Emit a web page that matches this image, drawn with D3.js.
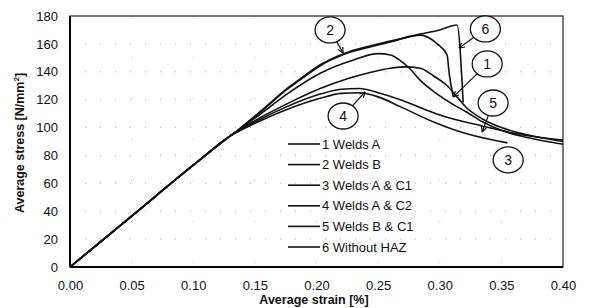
<!DOCTYPE html>
<html>
<head>
<meta charset="utf-8">
<script src="https://cdn.jsdelivr.net/npm/d3@7"></script>
<style>
  html, body { margin: 0; padding: 0; background: #fff; }
  svg { display: block; font-family: "Liberation Sans", Arial, sans-serif; }
</style>
</head>
<body>
<svg id="chart" width="594" height="308"></svg>
<script>
// ---------------- data ----------------
const seriesNames = ["1 Welds A", "2 Welds B", "3 Welds A & C1", "4 Welds A & C2", "5 Welds B & C1", "6 Without HAZ"];

const strain1 = [0, 0.05, 0.10, 0.13, 0.138, 0.155, 0.176, 0.19, 0.203, 0.222, 0.2435, 0.26, 0.284, 0.298, 0.306, 0.3075, 0.309, 0.311];
const stress1 = [0, 36.5, 73, 94, 99.3, 111.3, 127.3, 136.3, 144.3, 152.3, 157.8, 161.3, 166.3, 160, 152, 140, 131, 122];

const strain2 = [0, 0.05, 0.10, 0.13, 0.138, 0.155, 0.176, 0.203, 0.23, 0.25, 0.26, 0.268, 0.276, 0.284, 0.298, 0.31, 0.322, 0.335, 0.35, 0.37, 0.40];
const stress2 = [0, 36.5, 73, 94, 99, 110, 124, 139, 148.5, 153, 152, 148, 142, 134, 124, 117, 111, 104, 98, 93, 88];

const strain3 = [0, 0.05, 0.10, 0.13, 0.15, 0.176, 0.203, 0.22, 0.235, 0.25, 0.268, 0.295, 0.322, 0.355];
const stress3 = [0, 36.5, 73, 94, 103, 113, 121, 124.5, 125, 122, 115, 104, 95.5, 89];

const strain4 = [0, 0.05, 0.10, 0.13, 0.15, 0.176, 0.203, 0.22, 0.235, 0.25, 0.268, 0.285, 0.30, 0.335, 0.36, 0.38, 0.40];
const stress4 = [0, 36.5, 73, 94, 104, 115, 124, 127.5, 128, 125, 120, 114, 109, 101, 96, 93, 91];

const strain5 = [0, 0.05, 0.10, 0.13, 0.15, 0.176, 0.203, 0.225, 0.2435, 0.26, 0.272, 0.284, 0.295, 0.306, 0.314, 0.322, 0.335, 0.35, 0.37, 0.40];
const stress5 = [0, 36.5, 73, 94, 105, 117, 128, 135, 139.5, 142.5, 143.5, 142.5, 137, 130, 122, 114, 106, 100, 95, 90];

const strain6 = [0, 0.05, 0.10, 0.13, 0.138, 0.155, 0.176, 0.19, 0.203, 0.222, 0.2435, 0.26, 0.284, 0.30, 0.314, 0.319];
const stress6 = [0, 36.5, 73, 94, 99.5, 112, 128, 137, 145, 153, 158.5, 162, 167, 170, 173.5, 118];

const xTicks = [0, 0.05, 0.10, 0.15, 0.20, 0.25, 0.30, 0.35, 0.40];
const yTicks = [0, 20, 40, 60, 80, 100, 120, 140, 160, 180];

// callout labels: circle centre and arrow tip, in data units
const calloutLabels = ["2", "6", "1", "5", "3", "4"];
const calloutCx = [0.211, 0.337, 0.3385, 0.3433, 0.3555, 0.2216];
const calloutCy = [170, 170.7, 145.6, 117.6, 76.8, 108.3];
const calloutTipX = [0.2216, 0.3157, 0.311, 0.3344, null, 0.2394];
const calloutTipY = [153.5, 157, 122, 96.8, null, 125.5];

// ---------------- chart ----------------
const strains = [strain1, strain2, strain3, strain4, strain5, strain6];
const stresses = [stress1, stress2, stress3, stress4, stress5, stress6];
const series = seriesNames.map((n, i) => ({
  name: n,
  pts: strains[i].map((s, j) => [s, stresses[i][j]])
}));

const svg = d3.select("#chart");
const pL = 70, pR = 563, pT = 16, pB = 267;
const x = d3.scaleLinear().domain([0, 0.4]).range([pL, pR]);
const y = d3.scaleLinear().domain([0, 180]).range([pB, pT]);

// faint dotted grid (scanned look)
const grid = svg.append("g");
grid.selectAll("line.h").data(yTicks.slice(1, -1)).join("line")
  .attr("x1", pL).attr("x2", pR)
  .attr("y1", d => y(d)).attr("y2", d => y(d))
  .attr("stroke", "#aaa").attr("stroke-width", 1)
  .attr("stroke-dasharray", "1 14");
grid.selectAll("line.v").data(xTicks.slice(1, -1)).join("line")
  .attr("y1", pT).attr("y2", pB)
  .attr("x1", d => x(d)).attr("x2", d => x(d))
  .attr("stroke", "#bbb").attr("stroke-width", 1)
  .attr("stroke-dasharray", "1 40");

// axes
const xAxis = svg.append("g").attr("transform", `translate(0,${pB})`)
  .call(d3.axisBottom(x).tickValues(xTicks).tickSize(0).tickPadding(14).tickFormat(d3.format(".2f")));
const yAxis = svg.append("g").attr("transform", `translate(${pL},0)`)
  .call(d3.axisLeft(y).tickValues(yTicks).tickSize(0).tickPadding(12));
[xAxis, yAxis].forEach(a => {
  a.select(".domain").remove();
  a.selectAll("text").attr("font-size", 13).attr("fill", "#111")
    .attr("font-family", "Liberation Sans, Arial, sans-serif");
});

// frame
svg.append("rect").attr("x", pL).attr("y", pT)
  .attr("width", pR - pL).attr("height", pB - pT)
  .attr("fill", "none").attr("stroke", "#222").attr("stroke-width", 1.2);
svg.append("line").attr("x1", pL).attr("x2", pL).attr("y1", pT).attr("y2", pB)
  .attr("stroke", "#000").attr("stroke-width", 2);
svg.append("line").attr("x1", pL).attr("x2", pR).attr("y1", pB).attr("y2", pB)
  .attr("stroke", "#000").attr("stroke-width", 2);

// curves
const line = d3.line().x(d => x(d[0])).y(d => y(d[1])).curve(d3.curveMonotoneX);
svg.append("g").selectAll("path").data(series).join("path")
  .attr("d", d => line(d.pts))
  .attr("fill", "none").attr("stroke", "#111").attr("stroke-width", 1.6)
  .attr("stroke-linejoin", "round");

// legend
const legend = svg.append("g");
const lgX1 = 288, lgX2 = 320, lgY0 = 144, lgDy = 20.6;
series.forEach((s, i) => {
  const yy = lgY0 + i * lgDy;
  legend.append("line").attr("x1", lgX1).attr("x2", lgX2).attr("y1", yy).attr("y2", yy)
    .attr("stroke", "#111").attr("stroke-width", 1.6);
  legend.append("text").attr("x", lgX2 + 2).attr("y", yy).attr("dy", "0.36em")
    .attr("font-size", 13).attr("fill", "#111").text(s.name);
});

// callouts
const co = svg.append("g");
const rx = 15, ry = 13;
calloutLabels.forEach((lab, i) => {
  const cx = x(calloutCx[i]), cy = y(calloutCy[i]);
  co.append("ellipse").attr("cx", cx).attr("cy", cy).attr("rx", rx).attr("ry", ry)
    .attr("fill", "#fff").attr("stroke", "#111").attr("stroke-width", 1.3);
  co.append("text").attr("x", cx).attr("y", cy).attr("dy", "0.36em")
    .attr("text-anchor", "middle").attr("font-size", 14).attr("fill", "#111").text(lab);
  if (calloutTipX[i] !== null) {
    const tx = x(calloutTipX[i]), ty = y(calloutTipY[i]);
    const dx = tx - cx, dy = ty - cy;
    const ang = Math.atan2(dy, dx);
    const er = (rx * ry) / Math.sqrt((ry * Math.cos(ang)) ** 2 + (rx * Math.sin(ang)) ** 2);
    const sx = cx + Math.cos(ang) * er, sy = cy + Math.sin(ang) * er;
    co.append("line").attr("x1", sx).attr("y1", sy).attr("x2", tx).attr("y2", ty)
      .attr("stroke", "#111").attr("stroke-width", 1.2);
    const hl = 6, ha = 0.45;
    [ang + Math.PI - ha, ang + Math.PI + ha].forEach(a2 => {
      co.append("line").attr("x1", tx).attr("y1", ty)
        .attr("x2", tx + Math.cos(a2) * hl).attr("y2", ty + Math.sin(a2) * hl)
        .attr("stroke", "#111").attr("stroke-width", 1.2);
    });
  }
});

// axis titles
svg.append("text").attr("x", 314).attr("y", 304).attr("text-anchor", "middle")
  .attr("font-size", 12.5).attr("font-weight", "bold").attr("fill", "#111")
  .text("Average strain [%]");
const yt = svg.append("text").attr("transform", "translate(24,143) rotate(-90)")
  .attr("text-anchor", "middle").attr("font-size", 12.5).attr("font-weight", "bold").attr("fill", "#111");
yt.append("tspan").text("Average stress [N/mm");
yt.append("tspan").attr("font-size", 8).attr("dy", -5).text("2");
yt.append("tspan").attr("dy", 5).text("]");
</script>
</body>
</html>
